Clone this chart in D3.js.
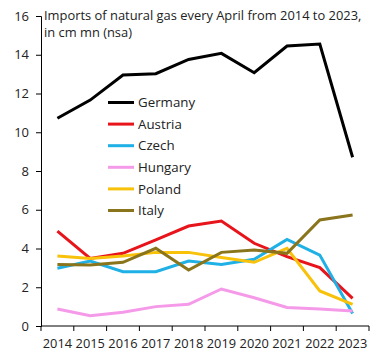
<!DOCTYPE html>
<html><head><meta charset="utf-8">
<script src="https://cdn.jsdelivr.net/npm/d3@7"></script>
<style>body{margin:0;background:#fff}svg{display:block}text{font-family:"Open Sans",sans-serif;fill:#222}</style>
</head><body><svg id="c" width="384" height="360"></svg>
<script>
const years = ["2014","2015","2016","2017","2018","2019","2020","2021","2022","2023"];
const seriesNames = ["Germany","Austria","Czech","Hungary","Poland","Italy"];
const germany = [10.72,11.66,12.95,13.02,13.76,14.07,13.07,14.45,14.55,8.71];
const austria = [4.9,3.49,3.75,4.44,5.16,5.42,4.27,3.58,3.01,1.43];
const czech   = [2.98,3.35,2.8,2.8,3.35,3.18,3.44,4.47,3.66,0.65];
const hungary = [0.88,0.53,0.71,1.0,1.12,1.91,1.46,0.96,0.88,0.77];
const poland  = [3.61,3.49,3.61,3.8,3.8,3.53,3.29,4.01,1.81,1.12];
const italy   = [3.18,3.15,3.29,4.01,2.89,3.8,3.92,3.75,5.47,5.73];
const yTicks = [0,2,4,6,8,10,12,14,16];
const titleLines = ["Imports of natural gas every April from 2014 to 2023,","in cm mn (nsa)"];

const colors = ["#000000","#e8141b","#1fb0e6","#f59ae8","#f8c10a","#8a741c"];
const data = [germany,austria,czech,hungary,poland,italy];

const svg = d3.select("#c");
const x = d3.scaleBand().domain(years).range([41,369]);
const y = d3.scaleLinear().domain([0,16]).range([326,16]);

// y axis
const ya = svg.append("g").attr("transform","translate(41,0)")
  .call(d3.axisLeft(y).tickValues(yTicks).tickSize(5).tickPadding(7).tickFormat(d3.format("d")));
ya.select(".domain").attr("stroke","#000");
ya.selectAll(".tick line").attr("stroke","#000");
ya.selectAll("text").style("font-size","13px").attr("fill","#222");

// x axis
const xa = svg.append("g").attr("transform","translate(0,326)")
  .call(d3.axisBottom(x).tickSize(0).tickPadding(13));
xa.select(".domain").attr("stroke","#000").attr("d","M41,0H369");
xa.selectAll("text").style("font-size","12.8px").attr("fill","#222");
// band boundary ticks
const bounds = years.map(d=>x(d)).concat([x.range()[1]]);
svg.append("g").selectAll("line").data(bounds).join("line")
  .attr("x1",d=>d).attr("x2",d=>d).attr("y1",326).attr("y2",331).attr("stroke","#000");

// lines
const line = d3.line().x((d,i)=>x(years[i])+x.bandwidth()/2).y(d=>y(d));
svg.append("g").selectAll("path").data(data).join("path")
  .attr("d",line).attr("fill","none").attr("stroke",(d,i)=>colors[i])
  .attr("stroke-width",3).attr("stroke-linejoin","miter");

// title
svg.append("g").selectAll("text").data(titleLines).join("text")
  .attr("x",44).attr("y",(d,i)=>20+i*17).style("font-size","12.9px").text(d=>d);

// legend
const lg = svg.append("g").selectAll("g").data(seriesNames).join("g")
  .attr("transform",(d,i)=>`translate(108,${102.5+i*21.6})`);
lg.append("line").attr("x1",0).attr("x2",26).attr("stroke",(d,i)=>colors[i]).attr("stroke-width",3);
lg.append("text").attr("x",30).attr("dy","0.35em").style("font-size","13.3px").text(d=>d);
</script></body></html>
